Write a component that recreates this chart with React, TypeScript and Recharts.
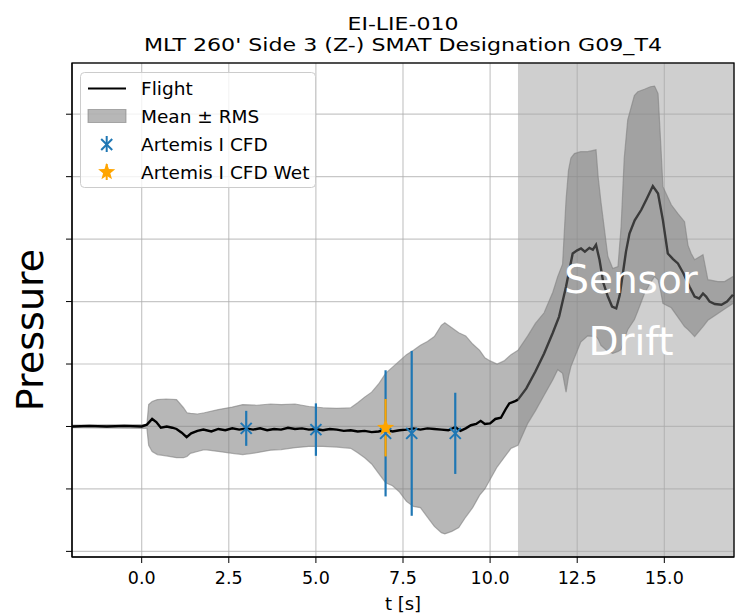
import React from 'react';
import { ComposedChart, XAxis, YAxis, CartesianGrid, Area, Line, Scatter, ErrorBar, ReferenceArea, Legend } from 'recharts';

const FONT = '"DejaVu Sans", sans-serif';
const BLUE = '#1f77b4';
const ORANGE = '#ffa500';

const xTicks = [0, 2.5, 5, 7.5, 10, 12.5, 15];
const yTicks = [-2, -1, 0, 1, 2, 3, 4, 5];
const driftStart = 10.8;

// flight trace before the drift window [t, value]
const flightPoints: [number, number][] = [
  [-2.0, 0.0], [-1.5, 0.01], [-1.0, 0.0], [-0.5, 0.01], [0.0, 0.0], [0.15, 0.03], [0.3, 0.12], [0.42, 0.07],
  [0.55, -0.02], [0.72, 0.0], [0.88, -0.02], [1.0, -0.04], [1.15, -0.1], [1.29, -0.17], [1.42, -0.11], [1.6, -0.07],
  [1.77, -0.05], [2.0, -0.08], [2.2, -0.04], [2.4, -0.06], [2.6, -0.03], [2.8, -0.05], [3.0, -0.03], [3.2, -0.05],
  [3.4, -0.03], [3.6, -0.06], [3.8, -0.04], [4.0, -0.05], [4.2, -0.02], [4.4, -0.04], [4.6, -0.03], [4.8, -0.05],
  [5.0, -0.04], [5.2, -0.06], [5.4, -0.04], [5.6, -0.05], [5.8, -0.07], [6.0, -0.06], [6.2, -0.08], [6.4, -0.07],
  [6.6, -0.09], [6.8, -0.08], [7.0, -0.05], [7.2, -0.08], [7.4, -0.06], [7.6, -0.05], [7.8, -0.03], [8.0, -0.05],
  [8.2, -0.03], [8.4, -0.04], [8.6, -0.05], [8.8, -0.06], [9.0, -0.01], [9.15, -0.07], [9.3, -0.03], [9.45, 0.02],
  [9.6, 0.04], [9.73, 0.09], [9.85, 0.04], [10.0, 0.05], [10.15, 0.12], [10.31, 0.14], [10.45, 0.28], [10.55, 0.37],
  [10.7, 0.4], [10.8, 0.43],
];

// flight trace inside the sensor drift window
const driftPoints: [number, number][] = [
  [10.8, 0.43], [11.04, 0.61], [11.3, 0.88], [11.55, 1.17], [11.8, 1.5], [11.98, 1.76], [12.18, 2.24], [12.37, 2.77],
  [12.5, 2.82], [12.61, 2.85], [12.72, 2.8], [12.85, 2.86], [12.95, 2.83], [13.04, 2.91], [13.14, 2.67], [13.25, 2.3],
  [13.38, 2.08], [13.5, 1.92], [13.62, 1.89], [13.72, 2.1], [13.81, 2.45], [13.9, 2.8], [14.0, 3.09], [14.15, 3.3],
  [14.34, 3.47], [14.5, 3.65], [14.67, 3.85], [14.82, 3.73], [14.96, 3.3], [15.1, 2.77], [15.25, 2.68], [15.39, 2.61],
  [15.55, 2.45], [15.72, 2.24], [15.87, 2.08], [16.0, 2.05], [16.11, 2.13], [16.2, 2.08], [16.3, 2.0], [16.45, 1.96],
  [16.64, 1.95], [16.8, 2.0], [16.97, 2.11],
];

// mean +/- rms band [t, low, high]
const bandPoints: [number, number, number][] = [
  [-2.0, -0.02, 0.02], [0.15, -0.03, 0.03], [0.2, -0.3, 0.35], [0.3, -0.4, 0.4], [0.45, -0.45, 0.43], [0.7, -0.47, 0.44],
  [1.0, -0.5, 0.43], [1.2, -0.5, 0.3], [1.3, -0.48, 0.22], [1.4, -0.43, 0.21], [1.6, -0.4, 0.2], [1.8, -0.37, 0.22],
  [2.2, -0.4, 0.27], [2.6, -0.43, 0.31], [2.9, -0.45, 0.35], [3.3, -0.42, 0.34], [3.7, -0.38, 0.36], [4.0, -0.37, 0.35],
  [4.4, -0.34, 0.36], [4.8, -0.32, 0.32], [5.2, -0.32, 0.3], [5.6, -0.33, 0.29], [6.0, -0.35, 0.3], [6.2, -0.42, 0.38],
  [6.4, -0.5, 0.47], [6.6, -0.6, 0.55], [6.8, -0.75, 0.68], [7.0, -0.9, 0.85], [7.2, -0.95, 0.95], [7.4, -1.05, 1.05],
  [7.6, -1.2, 1.15], [7.8, -1.28, 1.22], [8.0, -1.3, 1.3], [8.2, -1.45, 1.36], [8.4, -1.6, 1.44], [8.6, -1.7, 1.62],
  [8.7, -1.72, 1.66], [8.9, -1.68, 1.58], [9.1, -1.62, 1.5], [9.3, -1.45, 1.45], [9.5, -1.3, 1.32], [9.7, -1.1, 1.22],
  [9.85, -1.0, 1.1], [10.0, -0.85, 1.05], [10.2, -0.65, 1.0], [10.4, -0.5, 1.05], [10.6, -0.35, 1.15], [10.8, -0.3, 1.22],
  [11.08, 0.05, 1.45], [11.3, 0.25, 1.65], [11.55, 0.5, 1.82], [11.8, 0.75, 2.15], [11.94, 0.91, 2.4], [12.08, 0.85, 2.6],
  [12.18, 0.55, 3.63], [12.25, 0.8, 4.1], [12.32, 0.96, 4.3], [12.42, 1.1, 4.37], [12.6, 1.35, 4.4], [12.8, 1.45, 4.4],
  [13.04, 1.44, 4.43], [13.1, 1.4, 4.0], [13.18, 1.3, 3.6], [13.38, 1.2, 2.72], [13.52, 1.17, 2.53], [13.67, 1.2, 2.56],
  [13.76, 1.23, 3.2], [13.85, 1.4, 4.3], [13.95, 1.55, 4.91], [14.14, 1.71, 5.3], [14.24, 1.85, 5.36], [14.43, 2.13, 5.4],
  [14.6, 2.3, 5.44], [14.72, 2.4, 5.45], [14.82, 2.35, 5.33], [14.9, 2.15, 4.5], [14.96, 1.97, 3.84], [15.2, 1.9, 3.55],
  [15.39, 1.75, 3.41], [15.58, 1.6, 3.28], [15.68, 1.55, 2.9], [15.77, 1.5, 2.77], [15.87, 1.44, 2.67], [16.11, 1.6, 2.75],
  [16.25, 1.7, 2.35], [16.54, 1.81, 2.32], [16.73, 1.88, 2.32], [16.97, 1.97, 2.4],
];

const cfdTimes = [3.0, 5.0, 7.0, 7.75, 9.0];
const cfdValues = [-0.03, -0.05, -0.11, -0.11, -0.11];
const cfdErrors = [0.28, 0.42, 1.01, 1.32, 0.65];

const wetTimes = [7.0];
const wetValues = [-0.02];
const wetErrors = [0.46];

const flightData = flightPoints.map(([t, v]) => ({ t, v }));
const driftData = driftPoints.map(([t, v]) => ({ t, v }));
const bandData = bandPoints.map(([t, lo, hi]) => ({ t, band: [lo, hi] }));
const cfdData = cfdTimes.map((t, i) => ({ t, v: cfdValues[i], err: cfdErrors[i] }));
const wetData = wetTimes.map((t, i) => ({ t, v: wetValues[i], err: wetErrors[i] }));

const starPoints = (cx: number, cy: number, R: number, r: number) => {
  const pts: string[] = [];
  for (let k = 0; k < 10; k++) {
    const rad = k % 2 === 0 ? R : r;
    const a = -Math.PI / 2 + (k * Math.PI) / 5;
    pts.push(`${cx + rad * Math.cos(a)},${cy + rad * Math.sin(a)}`);
  }
  return pts.join(' ');
};

const XMarker = (props: any) => {
  const { cx, cy } = props;
  const s = 5.5;
  return (
    <g stroke={BLUE} strokeWidth={2}>
      <line x1={cx - s} y1={cy - s} x2={cx + s} y2={cy + s} />
      <line x1={cx - s} y1={cy + s} x2={cx + s} y2={cy - s} />
    </g>
  );
};

const StarMarker = (props: any) => {
  const { cx, cy } = props;
  return <polygon points={starPoints(cx, cy, 9, 3.8)} fill={ORANGE} />;
};

const LegendBox = () => (
  <svg width={237} height={117} style={{ display: 'block', fontFamily: FONT }}>
    <rect x={0.5} y={0.5} width={235} height={115} rx={4} fill="#fff" fillOpacity={0.8} stroke="#cccccc" />
    <line x1={8} y1={16.5} x2={46} y2={16.5} stroke="#000" strokeWidth={2.2} />
    <text x={61} y={23} fontSize={18.5}>Flight</text>
    <rect x={8} y={37.5} width={38} height={13} fill="#808080" fillOpacity={0.57} stroke="#808080" strokeOpacity={0.6} />
    <text x={61} y={51.3} fontSize={18.5}>Mean ± RMS</text>
    <line x1={26.7} y1={64} x2={26.7} y2={80} stroke={BLUE} strokeWidth={2} />
    <XMarker cx={26.7} cy={72.5} />
    <text x={61} y={79} fontSize={18.5}>Artemis I CFD</text>
    <line x1={26.7} y1={92} x2={26.7} y2={108} stroke={ORANGE} strokeWidth={2} />
    <StarMarker cx={26.7} cy={100} />
    <text x={61} y={107} fontSize={18.5}>Artemis I CFD Wet</text>
  </svg>
);

const XLabel = (props: any) => {
  const { viewBox } = props;
  return (
    <text x={viewBox.x + viewBox.width / 2} y={610} textAnchor="middle" fontSize={18} fontFamily={FONT} fill="#000">
      t [s]
    </text>
  );
};

const YLabel = (props: any) => {
  const { viewBox } = props;
  const cy = viewBox.y + viewBox.height / 2 + 20;
  return (
    <text x={43} y={cy} transform={`rotate(-90, 43, ${cy})`} textAnchor="middle" fontSize={38} fontFamily={FONT} fill="#000">
      Pressure
    </text>
  );
};

export default function App() {
  return (
    <div style={{ position: 'relative', width: 736, height: 614, fontFamily: FONT, background: '#fff' }}>
      <style>{'body{margin:0}'}</style>
      <ComposedChart width={736} height={614} margin={{ top: 63, right: 2, bottom: 0, left: 0 }}>
        <CartesianGrid stroke="#afafaf" strokeOpacity={0.7} strokeWidth={1.2} />
        <XAxis
          type="number"
          dataKey="t"
          domain={[-2, 17]}
          allowDataOverflow
          ticks={xTicks}
          tickFormatter={(v: number) => v.toFixed(1)}
          height={57}
          tickSize={6}
          tickMargin={9}
          stroke="#000"
          tick={{ fill: '#000', fontSize: 17.5 }}
          label={<XLabel />}
        />
        <YAxis
          type="number"
          dataKey="v"
          domain={[-2.09, 5.82]}
          allowDataOverflow
          ticks={yTicks}
          tickFormatter={() => ''}
          width={72}
          tickSize={6}
          stroke="#000"
          label={<YLabel />}
        />
        <ReferenceArea x1={driftStart} x2={17} fill="#a8a8a8" fillOpacity={0.55} stroke="none" ifOverflow="hidden" />
        <Area
          data={bandData}
          dataKey="band"
          type="linear"
          fill="#808080"
          fillOpacity={0.57}
          stroke="#808080"
          strokeOpacity={0.6}
          strokeWidth={1.2}
          isAnimationActive={false}
          activeDot={false}
        />
        <Line data={flightData} dataKey="v" type="linear" stroke="#000" strokeWidth={2.4} dot={false} activeDot={false} isAnimationActive={false} />
        <Line data={driftData} dataKey="v" type="linear" stroke="#3a3a3a" strokeWidth={2.4} dot={false} activeDot={false} isAnimationActive={false} />
        <Scatter data={cfdData} dataKey="v" shape={<XMarker />} isAnimationActive={false}>
          <ErrorBar dataKey="err" direction="y" width={0} stroke={BLUE} strokeWidth={2.2} isAnimationActive={false} />
        </Scatter>
        <Scatter data={wetData} dataKey="v" shape={<StarMarker />} isAnimationActive={false}>
          <ErrorBar dataKey="err" direction="y" width={0} stroke={ORANGE} strokeWidth={2.2} isAnimationActive={false} />
        </Scatter>
        <Legend
          layout="horizontal"
          verticalAlign="middle"
          align="center"
          content={<LegendBox />}
          wrapperStyle={{ position: 'absolute', left: 80, top: 72, width: 237, height: 117 }}
        />
      </ComposedChart>
      <svg width={736} height={614} style={{ position: 'absolute', left: 0, top: 0, pointerEvents: 'none', fontFamily: FONT }}>
        <text x={403} y={29.5} textAnchor="middle" fontSize={18.5} textLength={111} lengthAdjust="spacingAndGlyphs">EI-LIE-010</text>
        <text x={403} y={50.5} textAnchor="middle" fontSize={18.5} textLength={518} lengthAdjust="spacingAndGlyphs">
          MLT 260' Side 3 (Z-) SMAT Designation G09_T4
        </text>
        <text x={631} y={293} textAnchor="middle" fontSize={39} fill="#fff">Sensor</text>
        <text x={631} y={355} textAnchor="middle" fontSize={39} fill="#fff">Drift</text>
        <rect x={72} y={63} width={662} height={494} fill="none" stroke="#000" strokeWidth={1.3} />
      </svg>
    </div>
  );
}
